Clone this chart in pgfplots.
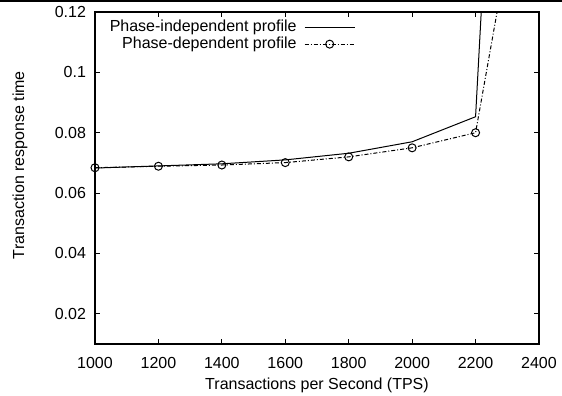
\documentclass[border=0pt]{standalone}
\usepackage{pgfplots}
\pgfplotsset{compat=1.18}
\usepackage{fontspec}
\setmainfont{Liberation Sans}
\begin{document}
\begin{tikzpicture}
\path[use as bounding box] (-47.5pt,-26pt) rectangle (233.5pt,172pt);
\draw[line width=1pt] (-47.5pt,171.5pt) -- (233.5pt,171.5pt);
\begin{axis}[
  scale only axis, width=222pt, height=166pt,
  xmin=1000, xmax=2400, ymin=0.01, ymax=0.12,
  xtick={1000,1200,1400,1600,1800,2000,2200,2400},
  ytick={0.02,0.04,0.06,0.08,0.1,0.12},
  yticklabels={0.02,0.04,0.06,0.08,0.1,0.12},
  scaled y ticks=false,
  /pgf/number format/1000 sep={},
  /pgf/number format/assume math mode=true,
  tick label style={font=\fontsize{8}{9.6}\selectfont},
  xticklabel style={yshift=-3pt},
  yticklabel style={xshift=-1pt},
  tick pos=both, tick align=inside, major tick length=2.5pt,
  tick style={line width=0.5pt, black},
  axis line style={line width=0.8pt},
  xlabel={Transactions per Second (TPS)},
  ylabel={Transaction response time},
  every axis x label/.style={at={(axis description cs:0.5,-0.1235)}, anchor=center, font=\fontsize{8}{9.6}\selectfont},
  every axis y label/.style={at={(axis description cs:-0.169,0.539)}, rotate=90, anchor=center, font=\fontsize{8}{9.6}\selectfont},
  legend plot pos=right,
  legend cell align=right,
  legend style={draw=none, fill=none, inner sep=0pt, outer sep=0pt,
    at={(axis description cs:0.586,0.980)}, anchor=north east,
    font=\fontsize{8}{9.6}\selectfont, row sep=0pt,
    nodes={inner xsep=1.3pt, inner ysep=0pt, text height=6.2pt, text depth=2.3pt},
    /tikz/every odd column/.append style={column sep=2.5pt}},
  legend image code/.code={\draw[mark repeat=2,mark phase=2,#1] plot coordinates {(0pt,0pt) (12.5pt,0pt) (25pt,0pt)};},
]
\addplot[black, line width=0.5pt] coordinates {
  (1000,0.0683) (1200,0.0690) (1400,0.0697) (1600,0.0710) (1800,0.0732) (2000,0.0770) (2200,0.0853) (2400,0.474)};
\addlegendentry{Phase-independent profile}
\addplot[black, line width=0.5pt, dash pattern=on 2pt off 1pt on 0.5pt off 1pt, mark=o, mark size=2pt, mark options={solid}] coordinates {
  (1000,0.0684) (1200,0.0689) (1400,0.0693) (1600,0.0701) (1800,0.0720) (2000,0.0750) (2200,0.0800) (2400,0.198)};
\addlegendentry{Phase-dependent profile}
\end{axis}
\end{tikzpicture}
\end{document}
